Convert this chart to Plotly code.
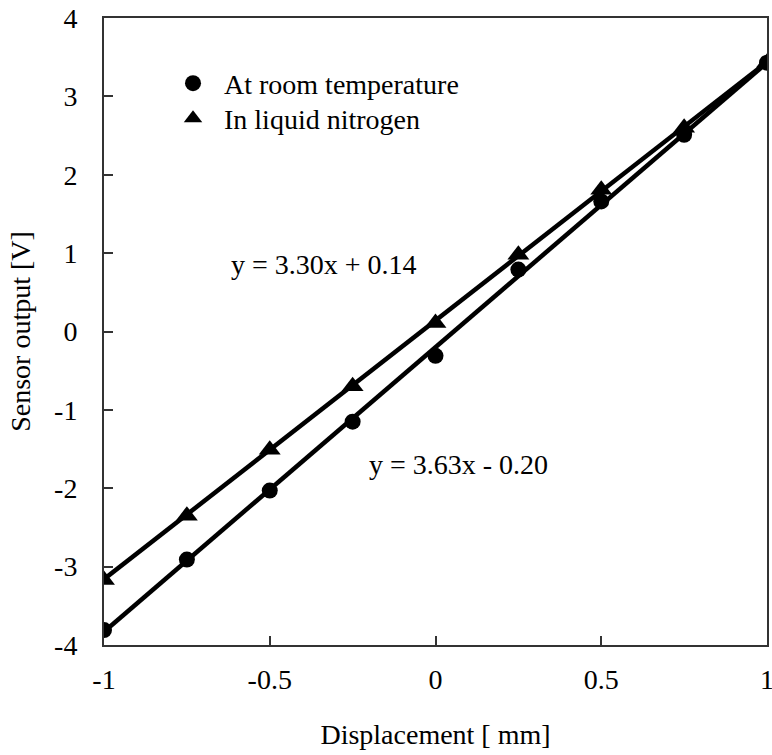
import plotly.graph_objects as go
import numpy as np

displacement = [-1.0, -0.75, -0.5, -0.25, 0.0, 0.25, 0.5, 0.75, 1.0]
room_temp = [-3.81, -2.91, -2.03, -1.15, -0.31, 0.79, 1.66, 2.51, 3.43]
liquid_n2 = [-3.17, -2.35, -1.51, -0.70, 0.11, 0.98, 1.81, 2.60, 3.43]
fit_room = (3.63, -0.20)
fit_n2 = (3.30, 0.14)
x_ticks = [-1, -0.5, 0, 0.5, 1]
y_ticks = [-4, -3, -2, -1, 0, 1, 2, 3, 4]

FONT = "Liberation Serif"
FS = 28

fig = go.Figure()
xs = np.array([displacement[0], displacement[-1]])
for (m, b) in (fit_room, fit_n2):
    fig.add_trace(go.Scatter(x=xs, y=m * xs + b, mode="lines",
                             line=dict(color="black", width=4.5),
                             showlegend=False, hoverinfo="skip"))

fig.add_trace(go.Scatter(x=displacement, y=room_temp, mode="markers",
                         name="At room temperature", legend="legend",
                         marker=dict(symbol="circle", size=16, color="black")))
fig.add_trace(go.Scatter(x=displacement, y=liquid_n2, mode="markers",
                         name="In liquid nitrogen", legend="legend2",
                         marker=dict(symbol="triangle-up", size=19, color="black")))

fig.add_annotation(x=-0.336, y=0.86, xref="x", yref="y",
                   text=f"y = {fit_n2[0]:.2f}x + {fit_n2[1]:.2f}",
                   showarrow=False, font=dict(size=FS, color="black", family=FONT))
fig.add_annotation(x=0.068, y=-1.70, xref="x", yref="y",
                   text=f"y = {fit_room[0]:.2f}x - {abs(fit_room[1]):.2f}",
                   showarrow=False, font=dict(size=FS, color="black", family=FONT))

axis_common = dict(showgrid=False, zeroline=False, showline=True, linecolor="#333",
                   linewidth=2, mirror=True, ticks="inside", ticklen=9,
                   tickcolor="#333", tickwidth=1.5, automargin=False,
                   ticklabeloverflow="allow",
                   tickfont=dict(size=FS, color="black", family=FONT))

legend_common = dict(xanchor="left", yanchor="top", itemwidth=52,
                     bgcolor="rgba(0,0,0,0)", font=dict(size=FS, family=FONT))

fig.update_layout(
    width=772, height=755,
    margin=dict(l=104, r=5, t=18, b=110),
    paper_bgcolor="white", plot_bgcolor="white",
    font=dict(family=FONT, color="black", size=FS),
    xaxis=dict(range=[-1, 1], tickvals=x_ticks, ticktext=[f"{v:g}" for v in x_ticks],
               ticklabelstandoff=8,
               title=dict(text="Displacement [ mm]", font=dict(size=FS, family=FONT), standoff=31),
               **axis_common),
    yaxis=dict(range=[-4, 4], tickvals=y_ticks, ticktext=[f"{v:g}" for v in y_ticks],
               ticklabelstandoff=19,
               title=dict(text="Sensor output [V]", font=dict(size=FS, family=FONT), standoff=15),
               **axis_common),
    legend=dict(x=0.0875, y=0.9354, **legend_common),
    legend2=dict(x=0.0875, y=0.8796, **legend_common),
    showlegend=True,
)

fig.write_html("out.html")
